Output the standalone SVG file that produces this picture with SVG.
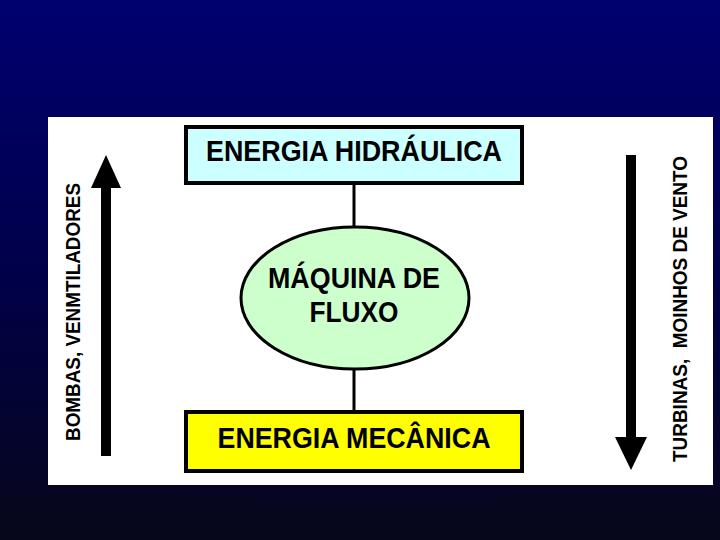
<svg xmlns="http://www.w3.org/2000/svg" width="720" height="540" viewBox="0 0 720 540">
<defs>
<linearGradient id="bg" x1="0" y1="0" x2="0" y2="1">
<stop offset="0" stop-color="#000070"/>
<stop offset="0.5" stop-color="#00004a"/>
<stop offset="1" stop-color="#07071a"/>
</linearGradient>
<style>
.t{font-family:"Liberation Sans",Arial,sans-serif;font-weight:bold;fill:#000;}
.big{font-size:29px;text-anchor:middle;}
.side{font-size:20px;}
.box{stroke:#000;stroke-width:4;}
.ln{stroke:#000;stroke-width:3;fill:none;}
</style>
</defs>
<rect x="0" y="0" width="720" height="540" fill="url(#bg)"/>
<rect x="48" y="117" width="665" height="368" fill="#fff"/>
<g id="connectors">
<line class="ln" x1="354" y1="185" x2="354" y2="227"/>
<line class="ln" x1="354" y1="369" x2="354" y2="410"/>
</g>
<g id="hidraulica">
<rect class="box" x="186" y="127" width="336" height="56" fill="#ccffff"/>
<text class="t big" x="354" y="161" textLength="296" lengthAdjust="spacingAndGlyphs">ENERGIA HIDRÁULICA</text>
</g>
<g id="maquina">
<ellipse cx="355" cy="298" rx="114" ry="71" fill="#ccffcc" stroke="#000" stroke-width="3"/>
<text class="t big" x="354" y="288" textLength="172" lengthAdjust="spacingAndGlyphs">MÁQUINA DE</text>
<text class="t big" x="354" y="322" textLength="89" lengthAdjust="spacingAndGlyphs">FLUXO</text>
</g>
<g id="mecanica">
<rect class="box" x="186" y="412" width="336" height="59" fill="#ffff00"/>
<text class="t big" x="354" y="448" textLength="273" lengthAdjust="spacingAndGlyphs">ENERGIA MECÂNICA</text>
</g>
<g id="seta-esquerda">
<rect x="101" y="186" width="10" height="270" fill="#000"/>
<polygon points="106,155 121,188 91,188" fill="#000"/>
<text class="t side" transform="translate(80,441) rotate(-90)" textLength="258" lengthAdjust="spacingAndGlyphs">BOMBAS, VENMTILADORES</text>
</g>
<g id="seta-direita">
<rect x="626" y="155" width="10" height="284" fill="#000"/>
<polygon points="615,437 647,437 631,470" fill="#000"/>
<text class="t side" transform="translate(687,462) rotate(-90)" textLength="306" lengthAdjust="spacingAndGlyphs" xml:space="preserve">TURBINAS,  MOINHOS DE VENTO</text>
</g>
</svg>
